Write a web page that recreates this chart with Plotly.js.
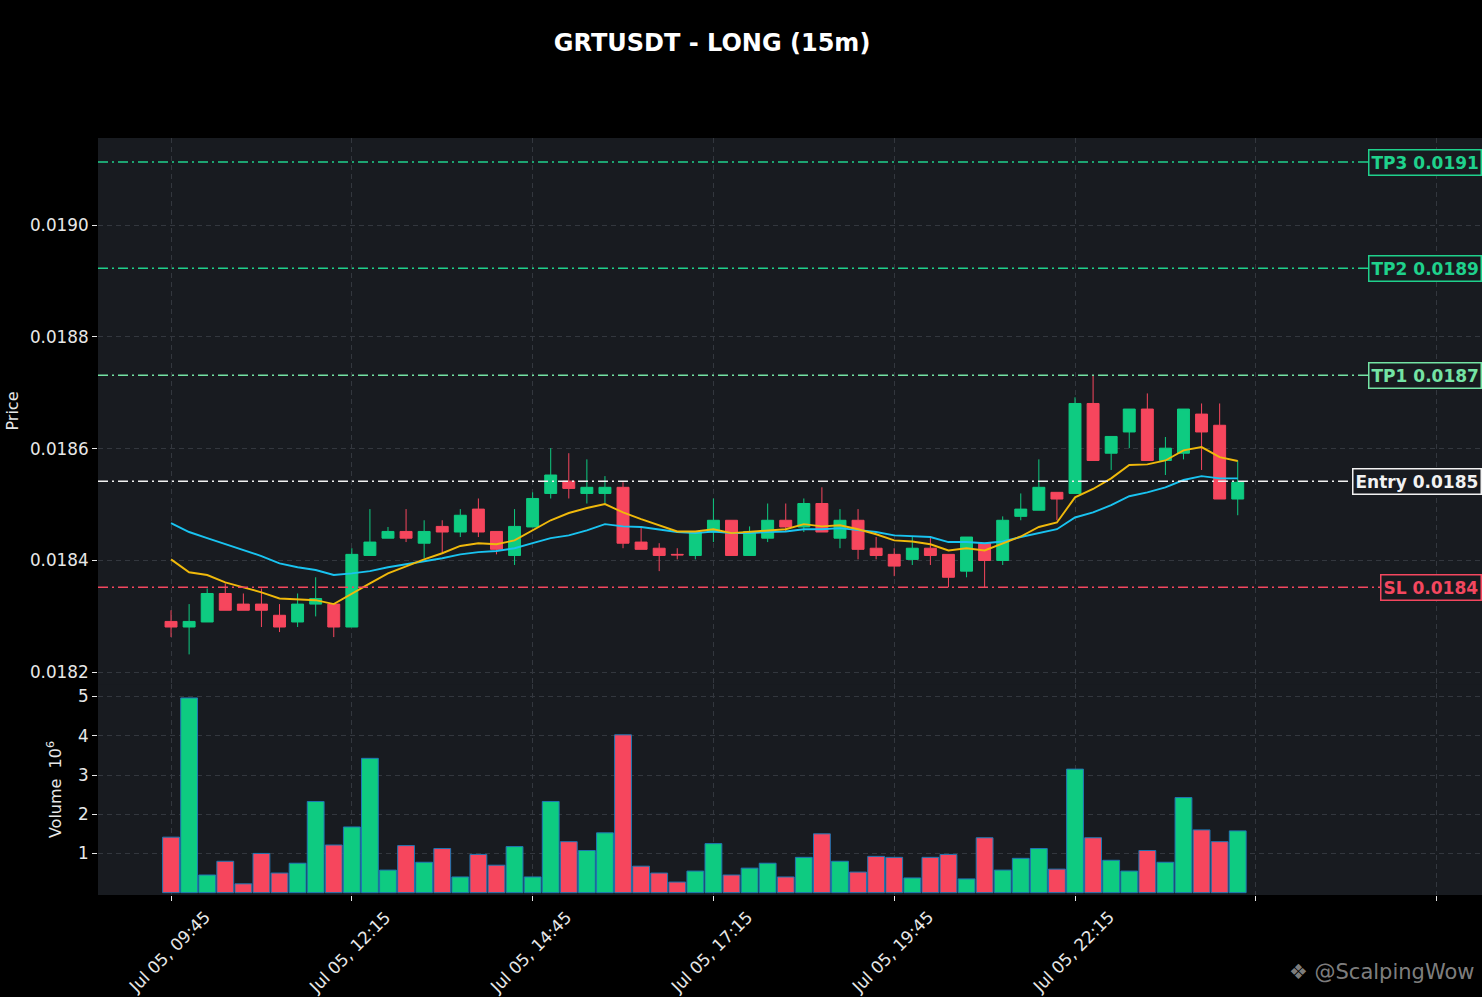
<!DOCTYPE html>
<html>
<head>
<meta charset="utf-8">
<script src="https://cdn.plot.ly/plotly-3.0.1.min.js"></script>
<style>
  html, body { margin: 0; padding: 0; background: #000; }
  #chart { width: 1482px; height: 997px; }
</style>
</head>
<body>
<div id="chart"></div>
<script>
const times = [
  "2025-07-05 09:45","2025-07-05 10:00","2025-07-05 10:15","2025-07-05 10:30","2025-07-05 10:45",
  "2025-07-05 11:00","2025-07-05 11:15","2025-07-05 11:30","2025-07-05 11:45","2025-07-05 12:00",
  "2025-07-05 12:15","2025-07-05 12:30","2025-07-05 12:45","2025-07-05 13:00","2025-07-05 13:15",
  "2025-07-05 13:30","2025-07-05 13:45","2025-07-05 14:00","2025-07-05 14:15","2025-07-05 14:30",
  "2025-07-05 14:45","2025-07-05 15:00","2025-07-05 15:15","2025-07-05 15:30","2025-07-05 15:45",
  "2025-07-05 16:00","2025-07-05 16:15","2025-07-05 16:30","2025-07-05 16:45","2025-07-05 17:00",
  "2025-07-05 17:15","2025-07-05 17:30","2025-07-05 17:45","2025-07-05 18:00","2025-07-05 18:15",
  "2025-07-05 18:30","2025-07-05 18:45","2025-07-05 19:00","2025-07-05 19:15","2025-07-05 19:30",
  "2025-07-05 19:45","2025-07-05 20:00","2025-07-05 20:15","2025-07-05 20:30","2025-07-05 20:45",
  "2025-07-05 21:00","2025-07-05 21:15","2025-07-05 21:30","2025-07-05 21:45","2025-07-05 22:00",
  "2025-07-05 22:15","2025-07-05 22:30","2025-07-05 22:45","2025-07-05 23:00","2025-07-05 23:15",
  "2025-07-05 23:30","2025-07-05 23:45","2025-07-06 00:00","2025-07-06 00:15","2025-07-06 00:30"
];

const openP = [0.018291,0.018281,0.018290,0.018341,0.018322,0.018322,0.018302,0.018290,0.018322,0.018322,
  0.018281,0.018409,0.018440,0.018452,0.018431,0.018461,0.018451,0.018492,0.018452,0.018409,
  0.018460,0.018520,0.018542,0.018520,0.018520,0.018531,0.018433,0.018422,0.018411,0.018409,
  0.018451,0.018472,0.018409,0.018440,0.018472,0.018460,0.018502,0.018440,0.018472,0.018422,
  0.018411,0.018402,0.018422,0.018411,0.018381,0.018431,0.018400,0.018479,0.018490,0.018522,
  0.018520,0.018681,0.018592,0.018630,0.018671,0.018579,0.018592,0.018662,0.018642,0.018510];

const highP = [0.018311,0.018322,0.018350,0.018359,0.018341,0.018350,0.018322,0.018341,0.018370,0.018322,
  0.018422,0.018492,0.018460,0.018492,0.018472,0.018472,0.018492,0.018511,0.018452,0.018492,
  0.018522,0.018601,0.018592,0.018581,0.018551,0.018540,0.018460,0.018431,0.018422,0.018451,
  0.018511,0.018472,0.018461,0.018502,0.018502,0.018511,0.018531,0.018492,0.018492,0.018442,
  0.018422,0.018442,0.018442,0.018411,0.018442,0.018431,0.018479,0.018520,0.018581,0.018522,
  0.018692,0.0187315,0.018622,0.018671,0.018699,0.018621,0.018671,0.018681,0.018681,0.018579];

const lowP = [0.018263,0.018232,0.018290,0.018311,0.018311,0.018281,0.018272,0.018281,0.018300,0.018263,
  0.018281,0.018409,0.018440,0.018433,0.018404,0.018413,0.018442,0.018442,0.018411,0.018392,
  0.018460,0.018511,0.018511,0.018502,0.018502,0.018422,0.018420,0.018381,0.018402,0.018402,
  0.018433,0.018409,0.018409,0.018433,0.018451,0.018451,0.018451,0.018422,0.018402,0.018402,
  0.018372,0.018392,0.018392,0.018352,0.018370,0.018352,0.018392,0.018472,0.018490,0.018472,
  0.018520,0.018579,0.018562,0.018601,0.018579,0.018553,0.018581,0.018562,0.018510,0.018481];

const closeP = [0.018281,0.018291,0.018341,0.018311,0.018311,0.018311,0.018281,0.018322,0.018332,0.018281,
  0.018411,0.018433,0.018452,0.018440,0.018452,0.018451,0.018481,0.018451,0.018420,0.018461,
  0.018511,0.018553,0.018529,0.018531,0.018531,0.018431,0.018420,0.018409,0.018410,0.018451,
  0.018472,0.018409,0.018452,0.018472,0.018460,0.018502,0.018451,0.018472,0.018420,0.018409,
  0.018390,0.018422,0.018409,0.018370,0.018442,0.018400,0.018472,0.018492,0.018531,0.018510,
  0.018681,0.018579,0.018622,0.018671,0.018579,0.018601,0.018671,0.018630,0.018510,0.018540];

const maFast = [0.018402,0.018379,0.018374,0.018361,0.018352,0.018343,0.018332,0.018331,0.018329,0.018322,
  0.018341,0.018359,0.018377,0.018390,0.018402,0.018413,0.018426,0.018431,0.018429,0.018436,
  0.018454,0.018472,0.018485,0.018494,0.018501,0.018486,0.018474,0.018463,0.018452,0.018452,
  0.018456,0.018449,0.018451,0.018454,0.018456,0.018465,0.018461,0.018463,0.018456,0.018447,
  0.018436,0.018434,0.018429,0.018418,0.018422,0.018418,0.018431,0.018443,0.018460,0.018468,
  0.018513,0.018528,0.018547,0.018571,0.018572,0.018579,0.018597,0.018603,0.018585,0.018578];

const maSlow = [0.018467,0.018451,0.018440,0.018429,0.018418,0.018408,0.018395,0.018388,0.018383,0.018374,
  0.018377,0.018381,0.018388,0.018393,0.018399,0.018404,0.018411,0.018415,0.018417,0.018422,
  0.018431,0.018440,0.018445,0.018454,0.018465,0.018461,0.018460,0.018456,0.018451,0.018449,
  0.018452,0.018449,0.018449,0.018451,0.018452,0.018456,0.018456,0.018458,0.018454,0.018451,
  0.018445,0.018443,0.018442,0.018433,0.018433,0.018431,0.018434,0.018442,0.018449,0.018456,
  0.018477,0.018486,0.018499,0.018515,0.018522,0.018531,0.018544,0.018551,0.018547,0.018547];

const volume = [1415000,4965000,450000,800000,225000,1000000,500000,750000,2325000,1215000,
  1675000,3425000,575000,1200000,775000,1125000,400000,975000,700000,1175000,
  400000,2325000,1300000,1075000,1525000,4025000,675000,500000,270000,550000,
  1250000,450000,625000,750000,400000,900000,1500000,800000,525000,925000,
  900000,375000,900000,975000,350000,1400000,575000,875000,1125000,600000,
  3150000,1400000,825000,550000,1075000,775000,2425000,1600000,1300000,1575000];

const levelNames = ["TP3", "TP2", "TP1", "Entry", "SL"];
const levelValues = [0.019113, 0.018923, 0.0187315, 0.018542, 0.018352];
const levelColors = ["#1fd18c", "#1fd18c", "#74e3a4", "#f2f2f2", "#f4475f"];

const tickTimes = ["2025-07-05 09:45","2025-07-05 12:15","2025-07-05 14:45","2025-07-05 17:15",
  "2025-07-05 19:45","2025-07-05 22:15","2025-07-06 00:45","2025-07-06 03:15"];
const tickLabels = ["Jul 05, 09:45","Jul 05, 12:15","Jul 05, 14:45","Jul 05, 17:15",
  "Jul 05, 19:45","Jul 05, 22:15","",""];

const priceTicks = [0.0182, 0.0184, 0.0186, 0.0188, 0.0190];
const volTicks = [1000000, 2000000, 3000000, 4000000, 5000000];
const volTickText = ["1", "2", "3", "4", "5"];

const watermarkText = "❖ @ScalpingWow";

const GREEN = "#0ecb81";
const RED = "#f6465d";
const FONT = "DejaVu Sans";
const TXT = "#e8e8e8";
const GRID = "#33373e";
const FS = 16.8;

const volColors = closeP.map((c, i) => (c >= openP[i] ? GREEN : RED));

const traces = [
  {
    type: "candlestick",
    x: times, open: openP, high: highP, low: lowP, close: closeP,
    xaxis: "x", yaxis: "y",
    increasing: { line: { color: GREEN, width: 1 }, fillcolor: GREEN },
    decreasing: { line: { color: RED, width: 1 }, fillcolor: RED },
    whiskerwidth: 0,
    hoverinfo: "skip",
    showlegend: false
  },
  {
    type: "scatter", mode: "lines", x: times, y: maSlow,
    xaxis: "x", yaxis: "y",
    line: { color: "#19c3f0", width: 1.9 },
    hoverinfo: "skip", showlegend: false
  },
  {
    type: "scatter", mode: "lines", x: times, y: maFast,
    xaxis: "x", yaxis: "y",
    line: { color: "#f0b90b", width: 1.9 },
    hoverinfo: "skip", showlegend: false
  },
  {
    type: "bar", x: times, y: volume,
    xaxis: "x", yaxis: "y2",
    width: 15 * 60 * 1000 * 0.93,
    marker: { color: volColors, line: { color: "#1f77b4", width: 1 } },
    hoverinfo: "skip", showlegend: false
  }
];

const shapes = levelValues.map((v, i) => ({
  type: "line", xref: "paper", yref: "y",
  x0: 0, x1: 1, y0: v, y1: v,
  line: { color: levelColors[i], width: 1.5, dash: "10px,4px,2px,4px" },
  layer: "above"
}));

const annotations = [];
levelValues.forEach((v, i) => {
  annotations.push({
    xref: "paper", yref: "y", x: 1, y: v,
    xanchor: "right", yanchor: "middle",
    text: "<b>" + levelNames[i] + " " + v.toFixed(4) + "</b>",
    showarrow: false,
    font: { family: FONT, size: 17, color: levelColors[i] },
    bgcolor: "#181b20",
    bordercolor: levelColors[i], borderwidth: 1.5, borderpad: 2
  });
});
tickTimes.forEach((t, i) => {
  if (!tickLabels[i]) return;
  annotations.push({
    xref: "x", yref: "paper", x: t, y: 0,
    xanchor: "center", yanchor: "middle",
    xshift: -2, yshift: -57,
    textangle: -45,
    text: tickLabels[i],
    showarrow: false,
    font: { family: FONT, size: FS, color: TXT }
  });
});
annotations.push({
  xref: "paper", yref: "paper", x: 0.859, y: -0.102,
  xanchor: "left", yanchor: "middle",
  text: watermarkText, showarrow: false,
  font: { family: FONT, size: 21, color: "rgba(210,210,210,0.62)" }
});

const layout = {
  width: 1482, height: 997,
  paper_bgcolor: "#000000",
  plot_bgcolor: "#181b20",
  margin: { l: 98, r: 0, t: 138, b: 102 },
  font: { family: FONT, color: TXT, size: FS },
  title: {
    text: "<b>GRTUSDT - LONG (15m)</b>",
    font: { family: FONT, size: 24, color: "#ffffff" },
    x: 0.4805, xanchor: "center", y: 0.957, yanchor: "middle"
  },
  showlegend: false,
  boxgap: 0.34, boxgroupgap: 0,
  xaxis: {
    type: "date",
    anchor: "y2",
    range: ["2025-07-05 08:44:24", "2025-07-06 03:52:40"],
    rangeslider: { visible: false },
    tickvals: tickTimes,
    showticklabels: false,
    ticks: "outside", ticklen: 5, tickcolor: TXT, tickwidth: 1,
    showgrid: true, gridcolor: GRID, griddash: "5px,4px", gridwidth: 1,
    zeroline: false, showline: false
  },
  yaxis: {
    domain: [0.2787, 1],
    range: [0.018179, 0.019156],
    tickvals: priceTicks,
    ticktext: priceTicks.map(v => v.toFixed(4)),
    ticks: "outside", ticklen: 5, tickcolor: TXT,
    tickfont: { family: FONT, size: FS, color: TXT },
    showgrid: true, gridcolor: GRID, griddash: "5px,4px",
    zeroline: false, showline: false,
    title: { text: "Price", font: { family: FONT, size: 16, color: TXT }, standoff: 7 }
  },
  yaxis2: {
    domain: [0, 0.2787],
    range: [-60000, 5320000],
    tickvals: volTicks,
    ticktext: volTickText,
    ticks: "outside", ticklen: 5, tickcolor: TXT,
    tickfont: { family: FONT, size: FS, color: TXT },
    showgrid: true, gridcolor: GRID, griddash: "5px,4px",
    zeroline: false, showline: false,
    title: { text: "Volume  10<sup>6</sup>", font: { family: FONT, size: 16, color: TXT }, standoff: 12 }
  },
  shapes: shapes,
  annotations: annotations
};

Plotly.newPlot("chart", traces, layout, { staticPlot: true, displayModeBar: false });
</script>
</body>
</html>
